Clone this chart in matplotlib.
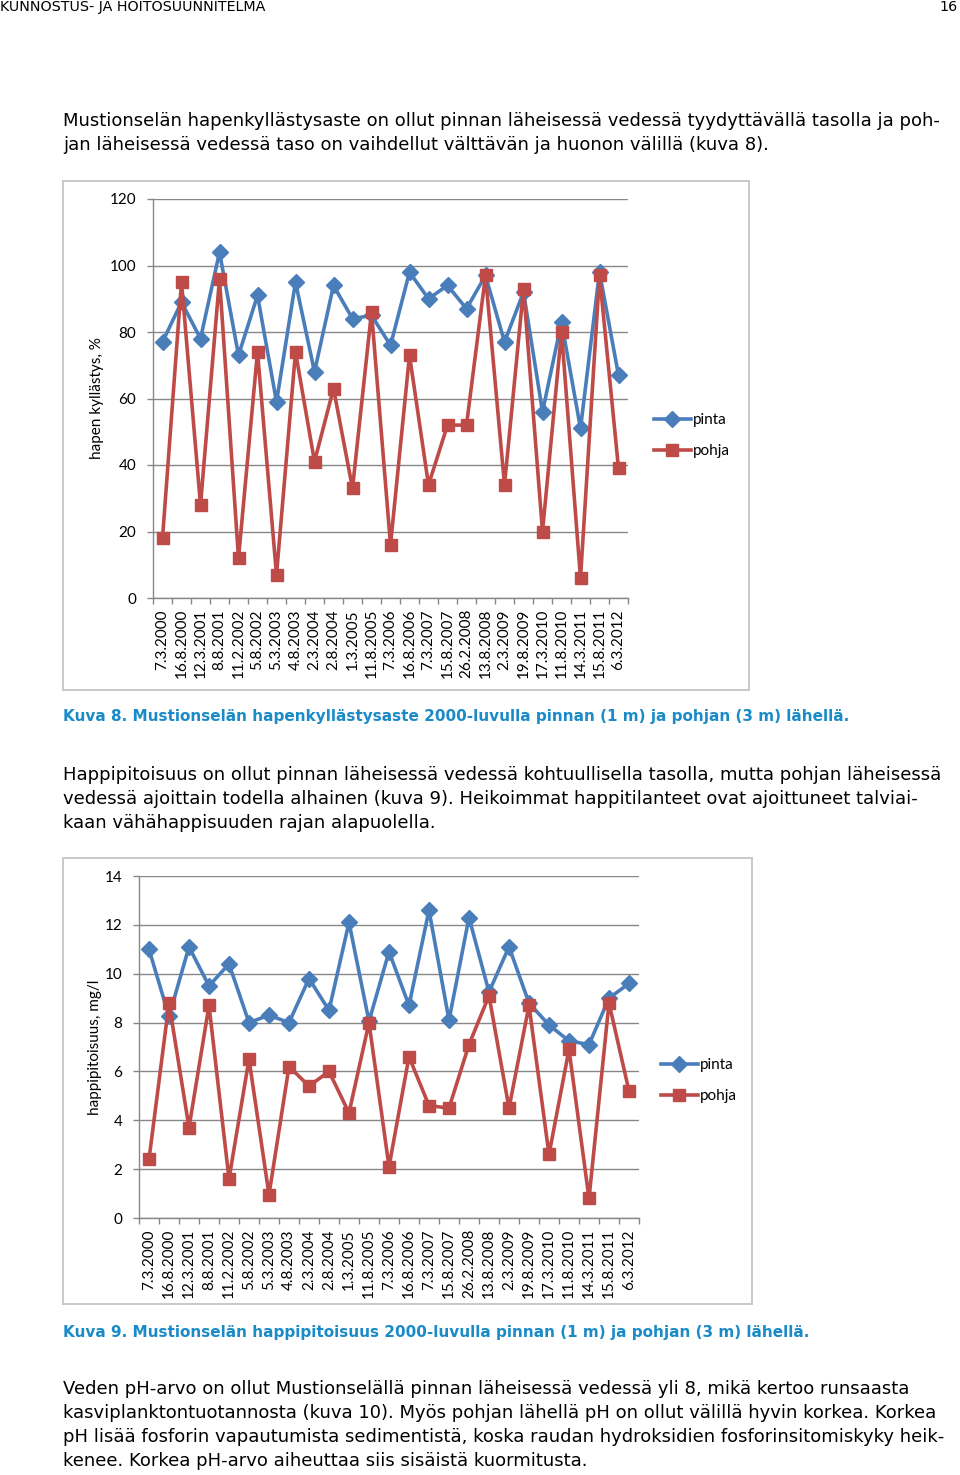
import matplotlib
matplotlib.use("Agg")
import matplotlib.pyplot as plt
from matplotlib.patches import Rectangle
from matplotlib.ticker import FixedLocator, MultipleLocator
import numpy as np

# sampling dates (same for both charts)
dates = ["7.3.2000", "16.8.2000", "12.3.2001", "8.8.2001", "11.2.2002", "5.8.2002",
         "5.3.2003", "4.8.2003", "2.3.2004", "2.8.2004", "1.3.2005", "11.8.2005",
         "7.3.2006", "16.8.2006", "7.3.2007", "15.8.2007", "26.2.2008", "13.8.2008",
         "2.3.2009", "19.8.2009", "17.3.2010", "11.8.2010", "14.3.2011", "15.8.2011",
         "6.3.2012"]

# oxygen saturation, %
sat_pinta = [77, 89, 78, 104, 73, 91, 59, 95, 68, 94, 84, 85, 76, 98, 90, 94, 87,
             97, 77, 92, 56, 83, 51, 98, 67]
sat_pohja = [18, 95, 28, 96, 12, 74, 7, 74, 41, 63, 33, 86, 16, 73, 34, 52, 52,
             97, 34, 93, 20, 80, 6, 97, 39]

# oxygen content, mg/l
o2_pinta = [11.0, 8.25, 11.1, 9.5, 10.4, 8.0, 8.3, 8.0, 9.8, 8.5, 12.1, 8.05, 10.9,
            8.7, 12.6, 8.1, 12.3, 9.25, 11.1, 8.8, 7.9, 7.25, 7.1, 9.0, 9.6]
o2_pohja = [2.4, 8.8, 3.7, 8.7, 1.6, 6.5, 0.95, 6.2, 5.4, 6.0, 4.3, 8.0, 2.1, 6.6,
            4.6, 4.5, 7.1, 9.1, 4.5, 8.7, 2.6, 6.9, 0.8, 8.8, 5.2]

W, H = 960, 1475
BLUE = "#4A7EBB"
RED = "#BE4B48"
GRID = "#878787"
CAPTION = "#1A8BC8"
BODY_FONT = "DejaVu Sans"
CHART_FONT = "Lato"

fig = plt.figure(figsize=(W / 100, H / 100), dpi=100)


def fx(px):
    return px / W


def fy(py):
    return 1 - py / H


def ptext(x, y, s, **kw):
    fig.text(fx(x), fy(y), s, **kw)


def frame(x0, y0, x1, y1):
    fig.patches.append(Rectangle((fx(x0), fy(y1)), fx(x1) - fx(x0), fy(y0) - fy(y1),
                                 transform=fig.transFigure, fill=False,
                                 edgecolor="#C8C8C8", linewidth=1.4))


def chart(left, right, top, bottom, pinta, pohja, ymax, ystep, ylabel, ylab_x,
          leg_x, leg_y):
    ax = fig.add_axes([fx(left), fy(bottom), fx(right) - fx(left), fy(top) - fy(bottom)])
    x = np.arange(len(dates))
    ax.plot(x, pinta, color=BLUE, lw=2.6, marker="D", ms=8.5, mec=BLUE, mfc=BLUE,
            label="pinta", zorder=3)
    ax.plot(x, pohja, color=RED, lw=2.6, marker="s", ms=9, mec=RED, mfc=RED,
            label="pohja", zorder=4)
    ax.set_xlim(-0.5, len(dates) - 0.5)
    ax.set_ylim(0, ymax)
    ax.yaxis.set_major_locator(MultipleLocator(ystep))
    ax.set_xticks(x)
    ax.set_xticklabels(dates, rotation=90, fontsize=11, family=CHART_FONT)
    ax.xaxis.set_minor_locator(FixedLocator(np.arange(-0.5, len(dates), 1.0)))
    ax.tick_params(axis="x", which="major", length=0, pad=8)
    ax.tick_params(axis="x", which="minor", length=4, color=GRID, width=1)
    ax.tick_params(axis="y", length=4, color=GRID, width=1, pad=8, labelsize=11)
    for lab in ax.get_yticklabels():
        lab.set_family(CHART_FONT)
    for s in ["top", "right"]:
        ax.spines[s].set_visible(False)
    for s in ["left", "bottom"]:
        ax.spines[s].set_color(GRID)
        ax.spines[s].set_linewidth(1)
    ax.grid(axis="y", color=GRID, lw=1)
    ax.set_axisbelow(True)
    ax.patch.set_alpha(0)
    ptext(ylab_x, (top + bottom) / 2, ylabel, rotation=90, ha="center", va="center",
          fontsize=11, family=CHART_FONT)
    ax.legend(loc="center left", bbox_to_anchor=(fx(leg_x), fy(leg_y)),
              bbox_transform=fig.transFigure, frameon=False,
              prop={"family": CHART_FONT, "size": 11}, handlelength=2.4,
              handletextpad=0.15, labelspacing=1.1, borderpad=0, borderaxespad=0)
    return ax


# page header
ptext(0, 7, "KUNNOSTUS- JA HOITOSUUNNITELMA", fontsize=10.3, family=BODY_FONT,
      va="center", ha="left")
ptext(958, 7, "16", fontsize=10.3, family=BODY_FONT, va="center", ha="right")

body = dict(fontsize=13, family=BODY_FONT, va="center", ha="left")
ptext(63, 121, "Mustionselän hapenkyllästysaste on ollut pinnan läheisessä vedessä "
      "tyydyttävällä tasolla ja poh-", **body)
ptext(63, 145, "jan läheisessä vedessä taso on vaihdellut välttävän ja huonon "
      "välillä (kuva 8).", **body)

frame(63, 181, 749, 690)
chart(153, 628, 199, 598, sat_pinta, sat_pohja, 120, 20, "hapen kyllästys, %", 97,
      654, 435.5)

cap = dict(fontsize=11, family=BODY_FONT, weight="bold", color=CAPTION,
           va="center", ha="left")
ptext(63, 717, "Kuva 8. Mustionselän hapenkyllästysaste 2000-luvulla pinnan (1 m) "
      "ja pohjan (3 m) lähellä.", **cap)

ptext(63, 775, "Happipitoisuus on ollut pinnan läheisessä vedessä kohtuullisella "
      "tasolla, mutta pohjan läheisessä", **body)
ptext(63, 799, "vedessä ajoittain todella alhainen (kuva 9). Heikoimmat "
      "happitilanteet ovat ajoittuneet talviai-", **body)
ptext(63, 823, "kaan vähähappisuuden rajan alapuolella.", **body)

frame(63, 858, 752, 1304)
chart(139, 639, 876, 1218, o2_pinta, o2_pohja, 14, 2, "happipitoisuus, mg/l", 95,
      661, 1080.5)

ptext(63, 1332, "Kuva 9. Mustionselän happipitoisuus 2000-luvulla pinnan (1 m) "
      "ja pohjan (3 m) lähellä.", **cap)

ptext(63, 1389, "Veden pH-arvo on ollut Mustionselällä pinnan läheisessä vedessä "
      "yli 8, mikä kertoo runsaasta", **body)
ptext(63, 1413, "kasviplanktontuotannosta (kuva 10). Myös pohjan lähellä pH on "
      "ollut välillä hyvin korkea. Korkea", **body)
ptext(63, 1437, "pH lisää fosforin vapautumista sedimentistä, koska raudan "
      "hydroksidien fosforinsitomiskyky heik-", **body)
ptext(63, 1461, "kenee. Korkea pH-arvo aiheuttaa siis sisäistä kuormitusta.", **body)

fig.savefig("out.png", dpi=100)
